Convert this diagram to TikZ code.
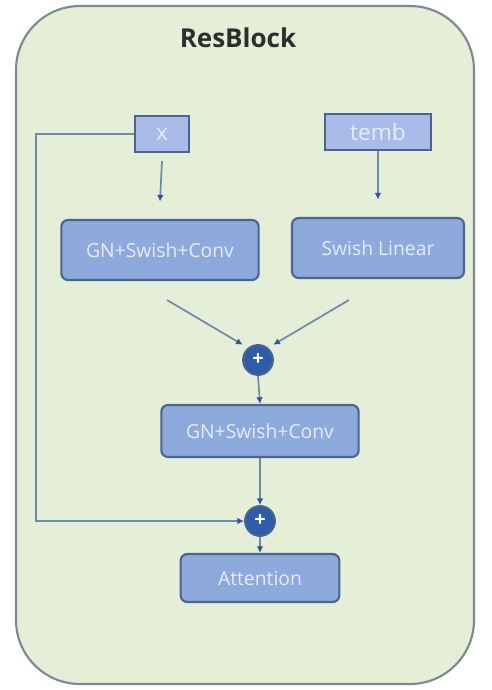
\documentclass[tikz,border=0pt]{standalone}
\usepackage{fontspec}
\setmainfont{Open Sans}
\usetikzlibrary{arrows.meta}
\definecolor{bgfill}{HTML}{E5EFD8}
\definecolor{bgline}{HTML}{7D8A93}
\definecolor{boxfill}{HTML}{8EA9DB}
\definecolor{boxline}{HTML}{4B6590}
\definecolor{inboxfill}{HTML}{A9BBE9}
\definecolor{plusfill}{HTML}{2F5BA8}
\definecolor{arrowline}{HTML}{6C8CA8}
\definecolor{arrowtip}{HTML}{2F55A0}
\definecolor{txt}{HTML}{E6ECF8}
\tikzset{
  blockbox/.style={draw=boxline, line width=1.6pt, fill=boxfill, rounded corners=5pt,
    text=txt, font=\fontsize{14.5}{16}\selectfont, minimum height=45pt, inner sep=0pt},
  inbox/.style={draw=boxline, line width=1.6pt, fill=inboxfill, text=txt,
    font=\fontsize{17}{19}\selectfont, minimum height=27pt, inner sep=0pt},
  plusnode/.style={circle, draw=boxline, line width=1.4pt, fill=plusfill, minimum size=22.5pt,
    inner sep=0pt, text=white, font=\fontsize{15}{15}\selectfont\bfseries},
  flow/.style={draw=arrowline, line width=1.3pt, -{Latex[length=5pt,width=5pt,color=arrowtip]}},
}
\begin{document}
\begin{tikzpicture}[x=0.75pt,y=-0.75pt]
\useasboundingbox (0,0) rectangle (492,690);
\fill[white] (0,0) rectangle (492,690);
\draw[draw=bgline, line width=1.6pt, fill=bgfill, rounded corners=48pt] (16,6) rectangle (474,684);
\node[font=\fontsize{19.5}{22}\selectfont\bfseries, text=black!82] (title) at (238,38) {ResBlock};
\node[inbox, minimum width=40pt] (x) at (162,134) {x};
\node[inbox, minimum width=80pt] (temb) at (378,132) {temb};
\node[blockbox, minimum width=148pt] (gn1) at (160,250) {GN+Swish+Conv};
\node[blockbox, minimum width=129pt] (sl) at (378,248) {Swish Linear};
\node[plusnode] (p1) at (258,360) {+};
\node[blockbox, minimum width=148pt, minimum height=39pt] (gn2) at (260,431) {GN+Swish+Conv};
\node[plusnode] (p2) at (260,521) {+};
\node[blockbox, minimum width=119pt, minimum height=36pt] (att) at (260,578) {Attention};
\coordinate (l1) at (167,300);
\coordinate (r1) at (349,300);
\coordinate (skip) at (36,134);
\draw[flow] ([yshift=-6pt]x.south) -- ([yshift=13pt]gn1.north);
\draw[flow] (temb.south) -- ([yshift=13pt]sl.north);
\draw[flow] (l1) -- ([shift={(-3pt,3pt)}]p1.north west);
\draw[flow] (r1) -- ([shift={(3pt,3pt)}]p1.north east);
\draw[flow] (p1.south) -- (gn2.north);
\draw[flow] (gn2.south) -- (p2.north);
\draw[flow] (p2.south) -- (att.north);
\draw[flow] (x.west) -- (skip) |- (p2.west);
\end{tikzpicture}
\end{document}
